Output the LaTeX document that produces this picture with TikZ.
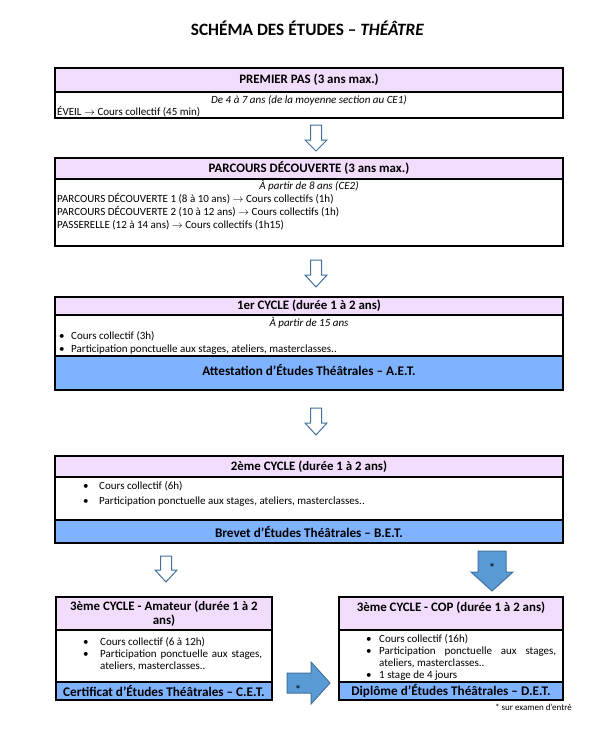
\documentclass[tikz,border=0pt]{standalone}
\usepackage{fontspec}
\setmainfont{Carlito}
\usetikzlibrary{positioning,calc}

\definecolor{lavande}{HTML}{F2DCFB}
\definecolor{bleubandeau}{HTML}{80B3FF}
\definecolor{fleche}{HTML}{5B9BD5}
\definecolor{flechebord}{HTML}{41719C}

\tikzset{
  cadre/.style={draw=black, line width=1.2pt, inner sep=0pt, outer sep=0pt},
  entete/.style={cadre, fill=lavande, font=\fontsize{12.9}{14}\selectfont\bfseries},
  corps/.style={cadre, fill=white},
  bandeau/.style={cadre, fill=bleubandeau, font=\fontsize{13.2}{15}\selectfont\bfseries},
  titrebloc/.style={inner sep=0pt, font=\fontsize{12.9}{14}\selectfont\bfseries},
  ligne/.style={inner sep=0pt, anchor=base west, font=\fontsize{11}{13}\selectfont},
  italique/.style={ligne, font=\fontsize{11}{13}\selectfont\itshape},
  creuse/.style={draw=flechebord, line width=1pt, fill=white, line join=miter},
  pleine/.style={draw=flechebord, line width=1pt, fill=fleche, line join=miter},
  etoile/.style={inner sep=0pt, font=\fontsize{13}{14}\selectfont},
  titre/.style={inner sep=0pt, font=\fontsize{17.3}{20}\selectfont\bfseries},
}

% fleche vers le bas : x, haut, fin du corps, pointe, demi-corps, demi-tete, style
\newcommand{\flechebas}[7]{%
  \draw[#7] (#1-#5,#2) -- (#1+#5,#2) -- (#1+#5,#3) -- (#1+#6,#3) -- (#1,#4)
    -- (#1-#6,#3) -- (#1-#5,#3) -- cycle;}
% fleche vers la droite : y, gauche, fin du corps, pointe, demi-corps, demi-tete, style
\newcommand{\flechedroite}[7]{%
  \draw[#7] (#2,#1-#5) -- (#3,#1-#5) -- (#3,#1-#6) -- (#4,#1) -- (#3,#1+#6)
    -- (#3,#1+#5) -- (#2,#1+#5) -- cycle;}

\begin{document}
\begin{tikzpicture}[x=1pt,y=-1pt]
  \fill[white] (0,0) rectangle (601,753);
  \useasboundingbox (0,0) rectangle (601,753);

  \node[titre] (titre) at (307.5,28) {SCHÉMA DES ÉTUDES – \textit{THÉÂTRE}};

  % premier pas
  \node[entete, minimum width=508pt, minimum height=24pt, anchor=north west] (pp) at (55,68) {PREMIER PAS (3 ans max.)};
  \node[corps, minimum width=508pt, minimum height=26pt, anchor=north] (ppcorps) at (pp.south) {};
  \node[italique, anchor=base] (ppage) at (309,103) {De 4 à 7 ans (de la moyenne section au CE1)};
  \node[ligne] (ppeveil) at (57,115.5) {ÉVEIL $\rightarrow$ Cours collectif (45 min)};

  \flechebas{316}{125}{140}{151}{5.5}{11}{creuse}

  % parcours decouverte
  \node[entete, minimum width=508pt, minimum height=21pt, anchor=north west] (pd) at (55,158) {PARCOURS DÉCOUVERTE (3 ans max.)};
  \node[corps, minimum width=508pt, minimum height=67pt, anchor=north] (pdcorps) at (pd.south) {};
  \node[italique, anchor=base] (pdage) at (309,189) {À partir de 8 ans (CE2)};
  \node[ligne] (pd1) at (57,202) {PARCOURS DÉCOUVERTE 1 (8 à 10 ans) $\rightarrow$ Cours collectifs (1h)};
  \node[ligne] (pd2) at (57,215) {PARCOURS DÉCOUVERTE 2 (10 à 12 ans) $\rightarrow$ Cours collectifs (1h)};
  \node[ligne] (pass) at (57,228) {PASSERELLE (12 à 14 ans) $\rightarrow$ Cours collectifs (1h15)};

  \flechebas{316}{260}{275}{287}{5.5}{11}{creuse}

  % 1er cycle
  \node[entete, minimum width=508pt, minimum height=18pt, anchor=north west] (c1) at (55,297) {1er CYCLE (durée 1 à 2 ans)};
  \node[corps, minimum width=508pt, minimum height=41pt, anchor=north] (c1corps) at (c1.south) {};
  \node[bandeau, minimum width=508pt, minimum height=34pt, anchor=north] (aet) at (c1corps.south) {};
  \node[italique, anchor=base] (c1age) at (309,326) {À partir de 15 ans};
  \node[ligne] (c1p1) at (59,339) {•};
  \node[ligne] (c1t1) at (71,339) {Cours collectif (3h)};
  \node[ligne] (c1p2) at (59,352) {•};
  \node[ligne] (c1t2) at (71,352) {Participation ponctuelle aux stages, ateliers, masterclasses..};
  \node[titrebloc, font=\fontsize{13.2}{15}\selectfont\bfseries, anchor=base] (aettxt) at (309,375.5) {Attestation d’Études Théâtrales – A.E.T.};

  \flechebas{316}{408}{423}{435}{5.5}{11}{creuse}

  % 2eme cycle
  \node[entete, minimum width=508pt, minimum height=21pt, anchor=north west] (c2) at (55,456) {2ème CYCLE (durée 1 à 2 ans)};
  \node[corps, minimum width=508pt, minimum height=43pt, anchor=north] (c2corps) at (c2.south) {};
  \node[bandeau, minimum width=508pt, minimum height=23pt, anchor=north] (bet) at (c2corps.south) {Brevet d’Études Théâtrales – B.E.T.};
  \node[ligne] (c2p1) at (83,489) {•};
  \node[ligne] (c2t1) at (99,489) {Cours collectif (6h)};
  \node[ligne] (c2p2) at (83,504) {•};
  \node[ligne] (c2t2) at (99,504) {Participation ponctuelle aux stages, ateliers, masterclasses..};

  \flechebas{166}{556}{570}{582}{5.5}{11}{creuse}
  \flechebas{492}{551}{572}{591}{14}{21}{pleine}
  \node[etoile] (e1) at (492,568) {*};

  % 3eme cycle amateur
  \node[entete, minimum width=216pt, minimum height=33pt, anchor=north west] (c3a) at (56,597) {};
  \node[titrebloc, align=center] (c3atxt) at (c3a.center) {3ème CYCLE - Amateur (durée 1 à 2\\ans)};
  \node[corps, minimum width=216pt, minimum height=52pt, anchor=north] (c3acorps) at (c3a.south) {};
  \node[bandeau, minimum width=216pt, minimum height=18pt, anchor=north] (cet) at (c3acorps.south) {Certificat d’Études Théâtrales – C.E.T.};
  \node[ligne] (c3ap1) at (83,645) {•};
  \node[ligne] (c3at1) at (100,645) {Cours collectif (6 à 12h)};
  \node[ligne] (c3ap2) at (83,657) {•};
  \node[ligne] (c3at2) at (100,657) {\makebox[162pt][s]{Participation ponctuelle aux stages,}};
  \node[ligne] (c3at3) at (100,669) {ateliers, masterclasses..};

  % 3eme cycle cop
  \node[entete, minimum width=224pt, minimum height=33pt, anchor=north west] (c3c) at (339,597) {};
  \node[titrebloc, anchor=base] (c3ctxt) at (451,611.5) {3ème CYCLE - COP (durée 1 à 2 ans)};
  \node[corps, minimum width=224pt, minimum height=52pt, anchor=north] (c3ccorps) at (c3c.south) {};
  \node[bandeau, minimum width=224pt, minimum height=18pt, anchor=north] (det) at (c3ccorps.south) {Diplôme d’Études Théâtrales – D.E.T.};
  \node[ligne] (c3cp1) at (366,642) {•};
  \node[ligne] (c3ct1) at (379,642) {Cours collectif (16h)};
  \node[ligne] (c3cp2) at (366,654) {•};
  \node[ligne] (c3ct2) at (379,654) {\makebox[177pt][s]{Participation ponctuelle aux stages,}};
  \node[ligne] (c3ct3) at (379,666) {ateliers, masterclasses..};
  \node[ligne] (c3cp4) at (366,678) {•};
  \node[ligne] (c3ct4) at (379,678) {1 stage de 4 jours};

  \flechedroite{683}{287}{311}{330}{10}{21}{pleine}
  \node[etoile] (e2) at (298,690) {*};

  \node[ligne, font=\fontsize{9}{11}\selectfont, anchor=base east] (note) at (572,710) {* sur examen d’entré};
\end{tikzpicture}
\end{document}
